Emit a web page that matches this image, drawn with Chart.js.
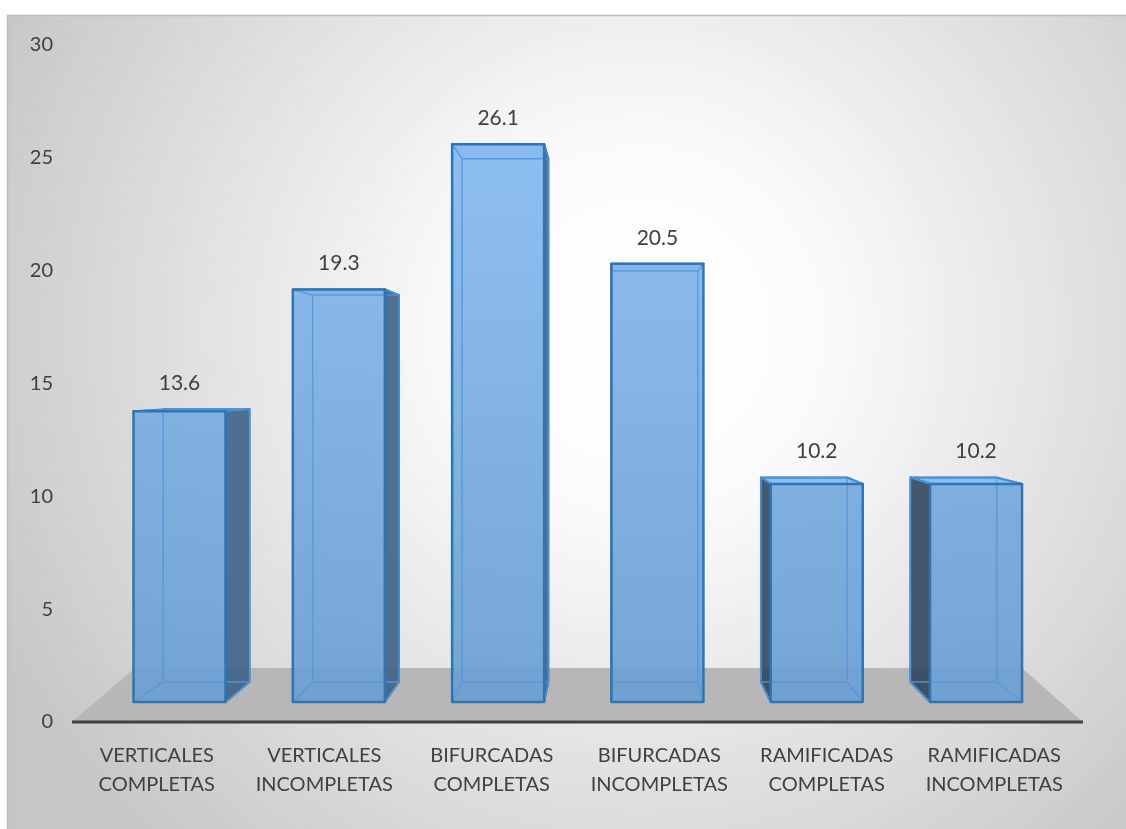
<!DOCTYPE html>
<html lang="es">
<head>
    <meta charset="UTF-8">
    <title>Tipos de grietas</title>
    <script src="https://cdn.jsdelivr.net/npm/chart.js"></script>
    <style>
        body { margin: 0; background: #fff; }
        canvas { display: block; }
    </style>
</head>
<body>
    <canvas id="chart" width="1126" height="829"></canvas>
    <script>
        // categorias y porcentajes
        const categorias = [
            ['VERTICALES', 'COMPLETAS'],
            ['VERTICALES', 'INCOMPLETAS'],
            ['BIFURCADAS', 'COMPLETAS'],
            ['BIFURCADAS', 'INCOMPLETAS'],
            ['RAMIFICADAS', 'COMPLETAS'],
            ['RAMIFICADAS', 'INCOMPLETAS']
        ];
        const valores = [13.6, 19.3, 26.1, 20.5, 10.2, 10.2];
        const yTicks = [0, 5, 10, 15, 20, 25, 30];

        // punto de fuga para el efecto 3D (tipo excel)
        const VX = 613, VY = 380, K = 0.938;
        const proj = (x, y) => [VX + K * (x - VX), VY + K * (y - VY)];

        const fondo = {
            id: 'fondo',
            beforeDraw(chart) {
                const c = chart.ctx;
                c.save();
                c.fillStyle = '#fff';
                c.fillRect(0, 0, chart.width, chart.height);
                const g = c.createRadialGradient(640, 330, 0, 640, 330, 720);
                g.addColorStop(0, '#ffffff');
                g.addColorStop(0.25, '#fbfbfb');
                g.addColorStop(1, '#c6c6c6');
                c.fillStyle = g;
                c.fillRect(7, 15, chart.width - 7, chart.height - 15);
                c.strokeStyle = '#bdbdbd';
                c.lineWidth = 1.5;
                c.beginPath();
                c.moveTo(7, 15.5); c.lineTo(chart.width, 15.5);
                c.moveTo(7.5, 15); c.lineTo(7.5, chart.height);
                c.stroke();
                c.restore();
            }
        };

        const cubos = {
            id: 'cubos',
            beforeDatasetsDraw(chart) {
                const c = chart.ctx;
                const area = chart.chartArea;
                const y0 = chart.scales.y.getPixelForValue(0);
                // piso
                c.save();
                c.lineJoin = 'round';
                c.fillStyle = '#b7b7b7';
                c.beginPath();
                c.moveTo(area.left - 1, y0);
                c.lineTo(area.right + 5, y0);
                c.lineTo(area.right - 56, y0 - 54);
                c.lineTo(area.left + 62, y0 - 54);
                c.closePath();
                c.fill();

                chart.getDatasetMeta(0).data.forEach(bar => {
                    const L = bar.x - bar.width / 2, R = bar.x + bar.width / 2;
                    const T = bar.y, B = bar.base;
                    const [Lb, Tb] = proj(L, T);
                    const [Rb, Bb] = proj(R, B);
                    // cara superior
                    c.fillStyle = '#8bbdf0';
                    c.strokeStyle = '#2e75b6';
                    c.lineWidth = 2;
                    c.beginPath();
                    c.moveTo(L, T); c.lineTo(R, T); c.lineTo(Rb, Tb); c.lineTo(Lb, Tb);
                    c.closePath();
                    c.fill(); c.stroke();
                    // cara lateral
                    c.beginPath();
                    if (bar.x < VX) {
                        c.fillStyle = 'rgba(62,98,136,0.9)';
                        c.moveTo(R, T); c.lineTo(Rb, Tb); c.lineTo(Rb, Bb); c.lineTo(R, B);
                    } else {
                        c.fillStyle = 'rgba(44,66,90,0.88)';
                        c.moveTo(L, T); c.lineTo(Lb, Tb); c.lineTo(Lb, Bb); c.lineTo(L, B);
                    }
                    c.closePath();
                    c.fill(); c.stroke();
                });
                c.restore();
            },
            afterDatasetsDraw(chart) {
                const c = chart.ctx;
                const meta = chart.getDatasetMeta(0);
                c.save();
                c.lineJoin = 'round';
                meta.data.forEach((bar, i) => {
                    const L = bar.x - bar.width / 2, R = bar.x + bar.width / 2;
                    const T = bar.y, B = bar.base;
                    const [Lb, Tb] = proj(L, T);
                    const [Rb, Bb] = proj(R, B);
                    // aristas traseras vistas a traves de la cara frontal
                    c.strokeStyle = 'rgba(86,152,218,0.85)';
                    c.lineWidth = 1.5;
                    c.beginPath();
                    c.moveTo(Lb, Tb); c.lineTo(Lb, Bb); c.lineTo(Rb, Bb); c.lineTo(Rb, Tb); c.lineTo(Lb, Tb);
                    c.moveTo(L, B); c.lineTo(Lb, Bb);
                    c.moveTo(R, B); c.lineTo(Rb, Bb);
                    c.moveTo(L, T); c.lineTo(Lb, Tb);
                    c.moveTo(R, T); c.lineTo(Rb, Tb);
                    c.stroke();
                    // marco frontal
                    c.strokeStyle = '#2e75b6';
                    c.lineWidth = 2.5;
                    c.strokeRect(L, T, R - L, B - T);
                    // etiqueta
                    c.fillStyle = '#404040';
                    c.font = '21px Lato';
                    c.textAlign = 'center';
                    c.textBaseline = 'middle';
                    c.fillText(valores[i].toFixed(1), bar.x, Math.min(T, Tb) - 26);
                });
                // eje x
                const y0 = chart.scales.y.getPixelForValue(0);
                c.strokeStyle = '#404040';
                c.lineWidth = 3;
                c.beginPath();
                c.moveTo(chart.chartArea.left - 1, y0);
                c.lineTo(chart.chartArea.right + 5, y0);
                c.stroke();
                c.restore();
            }
        };

        const ctx = document.getElementById('chart');
        new Chart(ctx, {
            type: 'bar',
            data: {
                datasets: [{
                    data: valores.map((v, i) => ({ x: i, y: v })),
                    xAxisID: 'xb',
                    yAxisID: 'yb',
                    barThickness: 92,
                    borderWidth: 0,
                    backgroundColor: (c) => {
                        const a = c.chart.chartArea;
                        if (!a) return '#6fa3d6';
                        const g = c.chart.ctx.createLinearGradient(0, 140, 0, 700);
                        g.addColorStop(0, 'rgba(136,188,240,0.95)');
                        g.addColorStop(1, 'rgba(106,159,210,0.92)');
                        return g;
                    }
                }]
            },
            options: {
                responsive: false,
                animation: false,
                layout: { padding: { left: 7, right: 48, top: 45, bottom: 18 } },
                plugins: {
                    legend: { display: false },
                    tooltip: { enabled: false }
                },
                scales: {
                    x: {
                        type: 'category',
                        labels: categorias,
                        offset: true,
                        grid: { display: false },
                        border: { display: false },
                        ticks: {
                            color: '#404040',
                            font: { family: 'Lato', size: 20, lineHeight: 1.45 },
                            maxRotation: 0,
                            padding: 11
                        },
                        afterFit: s => { s.height = 89; }
                    },
                    xb: {
                        type: 'linear',
                        display: false,
                        offset: false,
                        min: -0.6686,
                        max: 5.640
                    },
                    y: {
                        min: 0,
                        max: 30,
                        afterBuildTicks: s => { s.ticks = yTicks.map(v => ({ value: v })); },
                        grid: { display: false },
                        border: { display: false },
                        ticks: {
                            color: '#404040',
                            font: { family: 'Lato', size: 20 },
                            padding: 12
                        },
                        afterFit: s => { s.width = 66; }
                    },
                    yb: {
                        display: false,
                        min: -0.937,
                        max: 30.74
                    }
                }
            },
            plugins: [fondo, cubos]
        });
    </script>
</body>
</html>
